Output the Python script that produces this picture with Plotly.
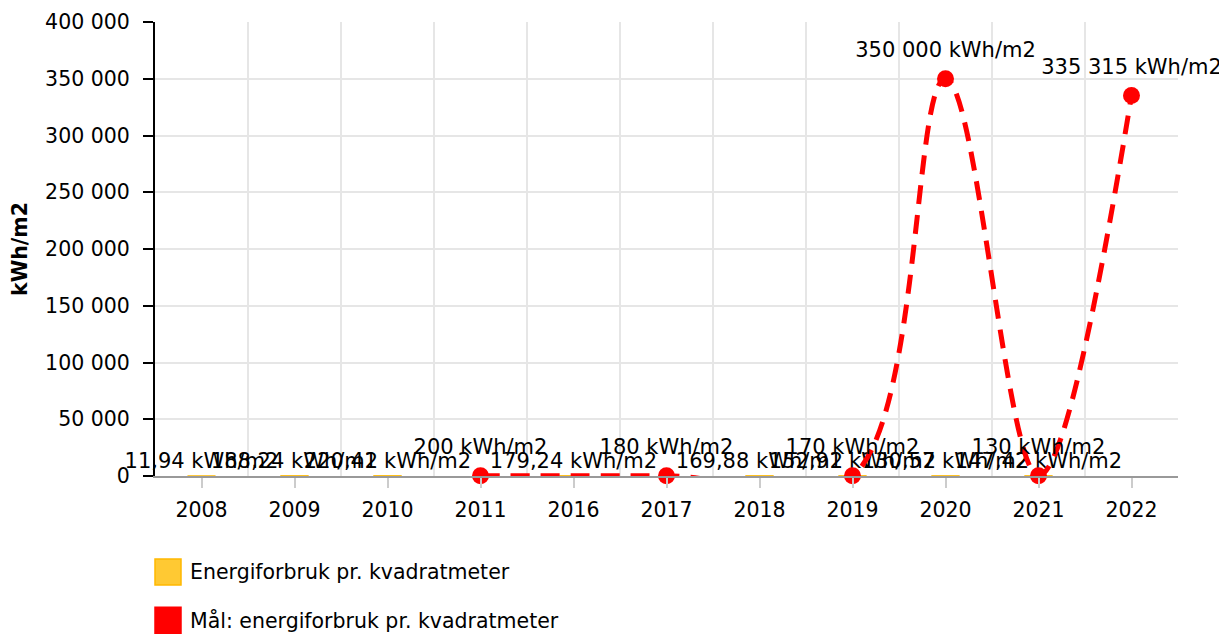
import plotly.graph_objects as go

# ---- data ----
years = ["2008", "2009", "2010", "2011", "2016", "2017", "2018", "2019", "2020", "2021", "2022"]
energy_per_m2 = [11.94, 188.24, 220.41, None, 179.24, None, 169.88, 152.91, 130.57, 147.42, None]
target_per_m2 = [None, None, None, 200, None, 180, None, 170, 350000, 130, 335315]
y_tick_values = [0, 50000, 100000, 150000, 200000, 250000, 300000, 350000, 400000]
series_names = ["Energiforbruk pr. kvadratmeter", "Mål: energiforbruk pr. kvadratmeter"]
series_colors = ["#FFC933", "#FF0000"]
unit = "kWh/m2"

positions = list(range(len(years)))
FONT = "DejaVu Sans, Verdana, sans-serif"
LABEL_SIZE = 21
TEXT_SIZE = 20.5

fig = go.Figure()

fig.add_trace(go.Bar(
    x=positions, y=energy_per_m2, name=series_names[0],
    marker=dict(color=series_colors[0], line=dict(color="#FFB800", width=1)),
    texttemplate="%{y:,.2f} " + unit, textposition="outside",
    constraintext="none", cliponaxis=False,
    textfont=dict(size=LABEL_SIZE, color="#000000", family=FONT),
    width=0.3, showlegend=False, hoverinfo="x+y",
))

fig.add_trace(go.Scatter(
    x=positions, y=target_per_m2, name=series_names[1],
    mode="lines+markers", connectgaps=True,
    line=dict(shape="spline", color=series_colors[1], width=5, dash="19px,11px"),
    marker=dict(size=17, color=series_colors[1]),
    cliponaxis=False, showlegend=False,
))

# data labels of the target series (placed a bit higher above the markers)
fig.add_trace(go.Scatter(
    x=positions, y=target_per_m2, name=series_names[1],
    mode="markers+text",
    marker=dict(size=25, color="rgba(0,0,0,0)"),
    texttemplate="%{y:,.0f} " + unit, textposition="top center",
    cliponaxis=False,
    textfont=dict(size=LABEL_SIZE, color="#000000", family=FONT),
    showlegend=False, hoverinfo="skip",
))

# manual legend (large squares as in the reference)
legend_y = [-0.2115, -0.3175]
shapes = []
annotations = []
for name, color, ly in zip(series_names, series_colors, legend_y):
    border = "#FFB800" if color == series_colors[0] else color
    shapes.append(dict(type="rect", xref="paper", yref="paper",
                       xsizemode="pixel", ysizemode="pixel",
                       xanchor=0, yanchor=ly, x0=0, x1=26, y0=-13, y1=13,
                       fillcolor=color, line=dict(color=border, width=1.5)))
    annotations.append(dict(xref="paper", yref="paper", x=0.032, y=ly,
                            xanchor="left", yanchor="middle", showarrow=False,
                            text=name, font=dict(size=TEXT_SIZE, color="#000000", family=FONT)))

fig.update_layout(
    width=1219, height=634,
    margin=dict(l=155, r=41, t=22, b=158, autoexpand=False),
    paper_bgcolor="#ffffff", plot_bgcolor="#ffffff",
    separators=", ",
    font=dict(family=FONT, size=TEXT_SIZE, color="#000000"),
    showlegend=False,
    shapes=shapes, annotations=annotations,
    bargap=0.4,
    xaxis=dict(
        range=[-0.5, len(years) - 0.5], tickmode="array", tickvals=positions, ticktext=years,
        showgrid=False, zeroline=False,
        showline=True, linecolor="#999999", linewidth=2,
        ticks="outside", ticklen=10, tickcolor="#cccccc", tickwidth=2,
        ticklabelstandoff=4,
        tickfont=dict(size=TEXT_SIZE, color="#000000", family=FONT),
        minor=dict(tick0=0.5, dtick=1, showgrid=True, gridcolor="#e6e6e6", gridwidth=2, ticks=""),
        fixedrange=True,
    ),
    yaxis=dict(
        range=[0, 400000], tickmode="array", tickvals=y_tick_values, tickformat=",d",
        showgrid=True, gridcolor="#e6e6e6", gridwidth=2, zeroline=False,
        showline=True, linecolor="#000000", linewidth=2,
        ticks="outside", ticklen=10, tickcolor="#000000", tickwidth=2,
        ticklabelstandoff=9,
        tickfont=dict(size=TEXT_SIZE, color="#000000", family=FONT),
        title=dict(text="<b>" + unit + "</b>", standoff=12,
                   font=dict(size=TEXT_SIZE, color="#000000", family=FONT)),
        fixedrange=True,
    ),
)

fig.write_html("out.html", include_plotlyjs=True,
               config={"displayModeBar": False},
               post_script="document.body.style.margin='0';")
